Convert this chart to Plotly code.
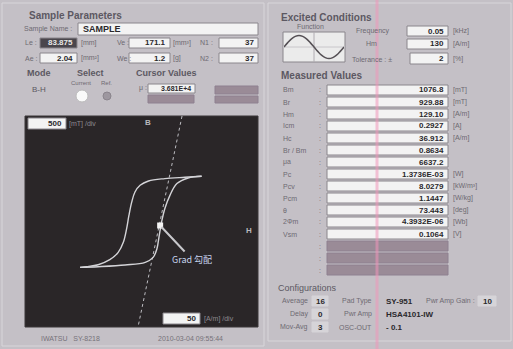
import plotly.graph_objects as go

W, H = 513, 349

# ---------------- data ----------------
# hysteresis loop (H in A/m, B in mT)
upper_h = [129, 93, 50, 15, -3, -14, -21, -27, -32, -39, -50, -68, -93, -118, -132]
upper_b = [1071, 1048, 1017, 960, 857, 698, 460, 143, -174, -493, -731, -905, -1024, -1071, -1088]
lower_h = [-132, -93, -35, 8, 25, 33, 38, 43, 50, 61, 76, 100, 129]
lower_b = [-1088, -1071, -1031, -967, -850, -650, -333, -17, 302, 619, 898, 1031, 1071]
grad_h = [87, -7.5]
grad_b = [2500, -2500]
cursor_h = [40]
cursor_b = [-95]

# excitation waveform icon
func_t = [0, 1, 2, 3, 4, 5, 6, 7, 8, 9, 10, 11, 12, 13, 14, 15, 16]
func_v = [0, 0.38, 0.71, 0.92, 1, 0.92, 0.71, 0.38, 0, -0.38, -0.71, -0.92, -1, -0.92, -0.71, -0.38, 0]

# measured values
mv_labels = ["Bm", "Br", "Hm", "Icm", "Hc", "Br / Bm", "μa", "Pc", "Pcv", "Pcm", "θ", "2Φm", "Vsm"]
mv_values = ["1076.8", "929.88", "129.10", "0.2927", "36.912", "0.8634", "6637.2",
             "1.3736E-03", "8.0279", "1.1447", "73.443", "4.3932E-06", "0.1064"]
mv_units = ["[mT]", "[mT]", "[A/m]", "[A]", "[A/m]", "", "", "[W]", "[kW/m³]",
            "[W/kg]", "[deg]", "[Wb]", "[V]"]

# sample parameters
sample_name = "SAMPLE"
le_val, ae_val = "83.875", "2.04"
ve_val, we_val = "171.1", "1.2"
n1_val, n2_val = "37", "37"
cursor_mu = "3.681E+4"
b_scale, h_scale = "500", "50"

# excited conditions
freq_val, hm_val, tol_val = "0.05", "130", "2"

# configurations
cfg_rows = [
    ("Average", "16", "Pad Type", "SY-951", "Pwr Amp Gain :", "10"),
    ("Delay", "0", "Pwr Amp", "HSA4101-IW", "", ""),
    ("Mov-Avg", "3", "OSC-OUT", "- 0.1", "", ""),
]

# ---------------- styling helpers ----------------
BG = "#c4c0c6"
LBL = "#6e6a72"
TITLE = "#5c5862"
VAL = "#2a282c"
WHITE = "#f3f3f3"
MAUVE = "#9a8b97"
FONT = "Liberation Sans"

def fx(x):
    return x / W

def fy(y):
    return 1 - y / H

shapes = []
annots = []

def rect(x0, y0, x1, y1, fill, line="#8a868c", lw=1):
    shapes.append(dict(type="rect", xref="paper", yref="paper",
                       x0=fx(x0), x1=fx(x1), y0=fy(y1), y1=fy(y0),
                       fillcolor=fill, line=dict(color=line, width=lw), layer="below"))

def line(x0, y0, x1, y1, color, lw=1, dash="solid"):
    shapes.append(dict(type="line", xref="paper", yref="paper",
                       x0=fx(x0), x1=fx(x1), y0=fy(y0), y1=fy(y1),
                       line=dict(color=color, width=lw, dash=dash), layer="below"))

def circle(cx, cy, r, fill, linec):
    shapes.append(dict(type="circle", xref="paper", yref="paper",
                       x0=fx(cx - r), x1=fx(cx + r), y0=fy(cy + r), y1=fy(cy - r),
                       fillcolor=fill, line=dict(color=linec, width=1), layer="below"))

def text(x, y, s, size=8, color=LBL, anchor="left", bold=False):
    if bold:
        s = "<b>" + s + "</b>"
    annots.append(dict(xref="paper", yref="paper", x=fx(x), y=fy(y), text=s,
                       showarrow=False, xanchor=anchor, yanchor="middle",
                       font=dict(family=FONT, size=size, color=color), borderpad=0))

def valbox(x0, y0, x1, y1, s, fill=WHITE, color=VAL, size=8):
    rect(x0, y0, x1, y1, fill)
    if s:
        text(x1 - 3, (y0 + y1) / 2, s, size=size, color=color, anchor="right", bold=True)

# frames
rect(2, 3, 264, 346, BG, line="#d8d6da", lw=1)
rect(268, 3, 511, 341, BG, line="#d8d6da", lw=1)

# ---------- left: sample parameters ----------
text(28, 15, "Sample Parameters", size=10, color=TITLE, bold=True)
text(23, 29, "Sample Name :", size=7)
rect(78, 23, 258, 35, WHITE)
text(82, 29, sample_name, size=9, color=VAL, bold=True)

text(24, 43, "Le :", size=7)
valbox(40, 38, 77, 48, le_val, fill="#4a464c", color="#e8e8e8")
text(80, 43, "[mm]", size=7)
text(116, 43, "Ve :", size=7)
valbox(129, 38, 170, 48, ve_val)
text(172, 43, "[mm³]", size=7)
text(199, 43, "N1 :", size=7)
valbox(219, 38, 258, 48, n1_val)

text(24, 58, "Ae :", size=7)
valbox(40, 53, 77, 63, ae_val)
text(80, 58, "[mm²]", size=7)
text(116, 58, "We :", size=7)
valbox(129, 53, 170, 63, we_val)
text(172, 58, "[g]", size=7)
text(199, 58, "N2 :", size=7)
valbox(219, 53, 258, 63, n2_val)

text(26, 73, "Mode", size=9, color=TITLE, bold=True)
text(76, 73, "Select", size=9, color=TITLE, bold=True)
text(135, 73, "Cursor Values", size=9, color=TITLE, bold=True)
text(31, 90, "B-H", size=8, color=TITLE)
text(70, 83, "Current", size=6)
text(100, 83, "Ref.", size=6)
circle(82, 96, 6, "#fafafa", "#bbbbbb")
circle(107, 96, 4, "#9d979f", "#8a848c")
text(138, 88, "μ :", size=7)
valbox(148, 84, 195, 93, cursor_mu, size=7)
rect(148, 95, 194, 103, MAUVE, line="#8e8090")
rect(215, 86, 258, 94, MAUVE, line="#8e8090")
rect(215, 96, 258, 103, MAUVE, line="#8e8090")

# ---------- plot area ----------
rect(25, 116, 258, 327, "#2a2628", line="#3a3638")
valbox(28, 118, 66, 129, b_scale)
text(68, 124, "[mT] /div", size=7, color="#8d8990")
valbox(163, 313, 200, 324, h_scale)
text(203, 319, "[A/m] /div", size=7, color="#8d8990")
text(148, 123, "B", size=8, color="#b8b8bc", anchor="center", bold=True)
text(249, 230, "H", size=8, color="#b8b8bc", anchor="center", bold=True)
text(40, 338, "IWATSU   SY-8218", size=7, color="#76727a")
text(157, 338, "2010-03-04 09:55:44", size=7, color="#76727a")

# ---------- right: excited conditions ----------
text(280, 17, "Excited Conditions", size=10, color=TITLE, bold=True)
text(296, 27, "Function", size=7)
rect(283, 32, 345, 62, "#ebebeb", line="#8a868c")
line(314, 32, 314, 62, "#b0acb2")
line(283, 47, 345, 47, "#c8c6ca")
text(355, 31, "Frequency", size=7)
valbox(407, 26, 448, 36, freq_val)
text(452, 31, "[kHz]", size=7)
text(365, 44, "Hm", size=7)
valbox(407, 39, 448, 49, hm_val)
text(452, 44, "[A/m]", size=7)
text(351, 59, "Tolerance : ±", size=7)
valbox(410, 53, 448, 64, tol_val)
text(452, 59, "[%]", size=7)

text(280, 75, "Measured Values", size=10, color=TITLE, bold=True)
for i in range(len(mv_labels)):
    yc = 90 + 12 * i
    text(282, yc, mv_labels[i], size=7)
    text(318, yc, ":", size=7)
    valbox(327, yc - 5, 448, yc + 5, mv_values[i])
    if mv_units[i]:
        text(452, yc, mv_units[i], size=7)
for j in range(3):
    yc = 90 + 12 * (len(mv_labels) + j)
    text(318, yc, ":", size=7)
    rect(327, yc - 5, 448, yc + 5, MAUVE, line="#8e8090")

text(277, 288, "Configurations", size=9, color=TITLE)
for k, (l1, v1, l2, v2, l3, v3) in enumerate(cfg_rows):
    yc = 301 + 13 * k
    text(309, yc, l1, size=7, anchor="right")
    rect(312, yc - 5, 328, yc + 5, "#d6d4d8", line="#d6d4d8")
    text(320, yc, v1, size=8, color=VAL, anchor="center", bold=True)
    text(373, yc, l2, size=7, anchor="right")
    text(385, yc, v2, size=8, color=VAL, bold=True)
    if l3:
        text(425, yc, l3, size=7)
        rect(478, yc - 5, 496, yc + 5, "#d6d4d8", line="#d6d4d8")
        text(487, yc, v3, size=8, color=VAL, anchor="center", bold=True)

# photo artefact stripe
line(377, 0, 377, 349, "rgba(240,150,185,0.55)", lw=3)

# ---------------- traces ----------------
fig = go.Figure()
fig.add_trace(go.Scatter(x=grad_h, y=grad_b, mode="lines", xaxis="x", yaxis="y",
                         line=dict(color="#bdbdc2", width=1, dash="dot"), hoverinfo="skip"))
fig.add_trace(go.Scatter(x=upper_h, y=upper_b, mode="lines", xaxis="x", yaxis="y",
                         line=dict(color="#d4d4d8", width=1.4, shape="spline", smoothing=1)))
fig.add_trace(go.Scatter(x=lower_h, y=lower_b, mode="lines", xaxis="x", yaxis="y",
                         line=dict(color="#d4d4d8", width=1.4, shape="spline", smoothing=1)))
fig.add_trace(go.Scatter(x=cursor_h, y=cursor_b, mode="markers", xaxis="x", yaxis="y",
                         marker=dict(symbol="square", size=6, color="#f4f4f4")))
fig.add_trace(go.Scatter(x=func_t, y=func_v, mode="lines", xaxis="x2", yaxis="y2",
                         line=dict(color="#555055", width=1.5, shape="spline")))

annots.append(dict(xref="x", yref="y", x=cursor_h[0], y=cursor_b[0],
                   text="Grad 勾配", showarrow=True, arrowhead=0, arrowwidth=2,
                   arrowcolor="#c8c8cc", ax=32, ay=34, standoff=2,
                   font=dict(family="Noto Sans CJK JP", size=9, color="#c6d4ee")))

fig.update_layout(
    width=W, height=H, margin=dict(l=0, r=0, t=0, b=0),
    paper_bgcolor=BG, plot_bgcolor="rgba(0,0,0,0)", showlegend=False,
    shapes=shapes, annotations=annots,
    xaxis=dict(domain=[fx(25), fx(258)], range=[-250, 250], visible=False, fixedrange=True),
    yaxis=dict(domain=[fy(327), fy(116)], range=[-2500, 2500], visible=False, fixedrange=True),
    xaxis2=dict(domain=[fx(284), fx(344)], range=[0, 16], visible=False, anchor="y2"),
    yaxis2=dict(domain=[fy(62), fy(32)], range=[-1.3, 1.3], visible=False, anchor="x2"),
)

fig.write_html("out.html", config={"displayModeBar": False},
               post_script="document.body.style.margin='0';document.body.style.overflow='hidden';")
